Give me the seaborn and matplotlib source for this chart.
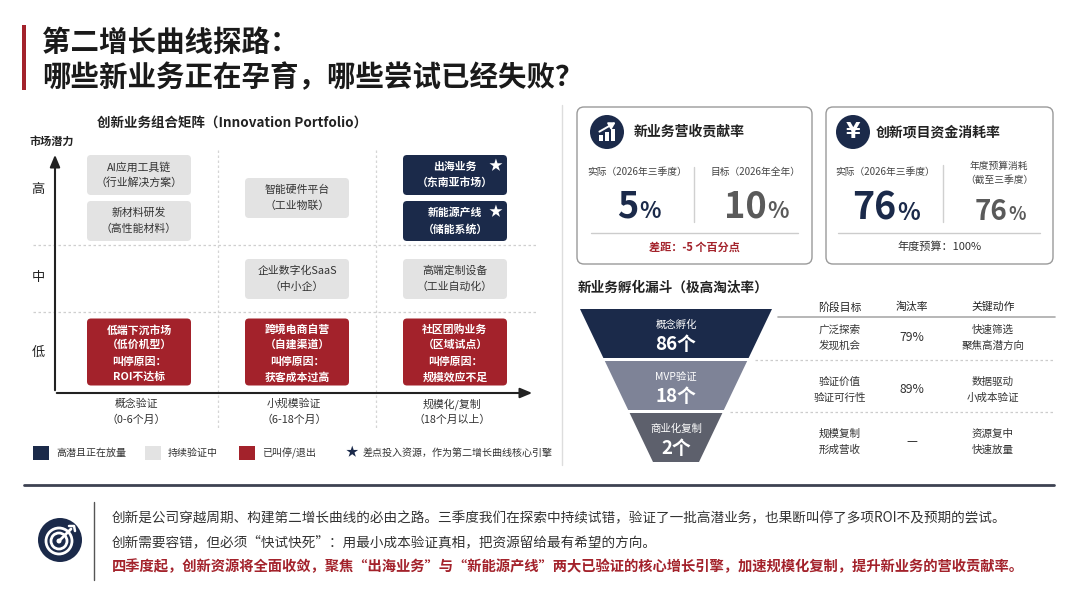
import numpy as np
import pandas as pd
import matplotlib
matplotlib.use('Agg')
import matplotlib.pyplot as plt
from matplotlib.patches import FancyBboxPatch, Polygon, Circle, Rectangle
import seaborn as sns

sns.set_theme(style='white')
plt.rcParams['font.family'] = ['Noto Sans CJK SC', 'DejaVu Sans']

# ---------------- data ----------------
title_lines = ['第二增长曲线探路：', '哪些新业务正在孕育，哪些尝试已经失败？']

matrix_title = '创新业务组合矩阵（Innovation Portfolio）'
y_axis_name = '市场潜力'
potential_levels = ['低', '中', '高']
stage_names = ['概念验证', '小规模验证', '规模化/复制']
stage_periods = ['（0-6个月）', '（6-18个月）', '（18个月以上）']

biz_names = ['AI应用工具链', '新材料研发', '智能硬件平台', '出海业务', '新能源产线',
             '企业数字化SaaS', '高端定制设备', '低端下沉市场', '跨境电商自营', '社区团购业务']
biz_notes = ['（行业解决方案）', '（高性能材料）', '（工业物联）', '（东南亚市场）', '（储能系统）',
             '（中小企）', '（工业自动化）', '（低价机型）', '（自建渠道）', '（区域试点）']
biz_stage = [0, 0, 1, 2, 2, 1, 2, 0, 1, 2]
biz_level = [2, 2, 2, 2, 2, 1, 1, 0, 0, 0]
biz_status = ['test', 'test', 'test', 'scale', 'scale', 'test', 'test', 'stop', 'stop', 'stop']
biz_reason = ['', '', '', '', '', '', '', 'ROI不达标', '获客成本过高', '规模效应不足']

status_order = ['scale', 'test', 'stop']
status_labels = ['高潜且正在放量', '持续验证中', '已叫停/退出']
star_note = '差点投入资源，作为第二增长曲线核心引擎'

rev_title = '新业务营收贡献率'
rev_labels = ['实际（2026年三季度）', '目标（2026年全年）']
rev_values = [5, 10]
burn_title = '创新项目资金消耗率'
burn_labels = ['实际（2026年三季度）', '年度预算消耗\n（截至三季度）']
burn_values = [76, 76]
burn_budget = 100

funnel_title = '新业务孵化漏斗（极高淘汰率）'
funnel_stages = ['概念孵化', 'MVP验证', '商业化复制']
funnel_counts = [86, 18, 2]
table_headers = ['阶段目标', '淘汰率', '关键动作']
stage_goals = ['广泛探索\n发现机会', '验证价值\n验证可行性', '规模复制\n形成营收']
drop_rates = ['79%', '89%', '—']
key_actions = ['快速筛选\n聚焦高潜方向', '数据驱动\n小成本验证', '资源复中\n快速放量']

summary_lines = [
    '创新是公司穿越周期、构建第二增长曲线的必由之路。三季度我们在探索中持续试错，验证了一批高潜业务，也果断叫停了多项ROI不及预期的尝试。',
    '创新需要容错，但必须“快试快死”：用最小成本验证真相，把资源留给最有希望的方向。',
    '四季度起，创新资源将全面收敛，聚焦“出海业务”与“新能源产线”两大已验证的核心增长引擎，加速规模化复制，提升新业务的营收贡献率。',
]

# ---------------- style ----------------
NAVY = '#1b2a4a'
RED = '#a3222b'
GRAY_BOX = '#e3e3e3'
TXT = '#222222'
MID = '#444444'
status_fill = {'scale': NAVY, 'test': GRAY_BOX, 'stop': RED}
status_text = {'scale': 'white', 'test': '#333333', 'stop': 'white'}

fig = plt.figure(figsize=(10.8, 6.08), dpi=100)
ax = fig.add_axes([0, 0, 1, 1])
ax.set_xlim(0, 1080)
ax.set_ylim(608, 0)
ax.axis('off')


def rbox(x0, y0, w, h, fc, ec='none', lw=0, r=4):
    ax.add_patch(FancyBboxPatch((x0, y0), w, h, boxstyle=f'round,pad=0,rounding_size={r}',
                                fc=fc, ec=ec, lw=lw))


# ---------------- title ----------------
ax.add_patch(Rectangle((22, 25), 4, 65, fc=RED, ec='none'))
for i, line in enumerate(title_lines):
    ax.text(42, 43 + i * 35, line, fontsize=20.5, fontweight='bold', color='#1a1a1a',
            ha='left', va='center')

# ---------------- matrix ----------------
COL_X0, COL_W = 139, 158
ROW_CY = [352, 279, 198]
ROW_LABEL_Y = [352, 278, 190]
AX_X, AX_Y, AX_TOP, AX_RIGHT = 55, 393, 152, 535
BOX_W = 104

ax.text(97, 124, matrix_title, fontsize=9.7, fontweight='bold', color=TXT, ha='left', va='center')
ax.text(52, 141, y_axis_name, fontsize=8, fontweight='bold', color=TXT, ha='center', va='center')

for yl in [245, 312]:
    ax.plot([33, 537], [yl, yl], color='#cfcfcf', lw=0.9, ls=(0, (2, 2)))
for s in range(1, len(stage_names)):
    xl = COL_X0 + (s - 0.5) * COL_W
    ax.plot([xl, xl], [150, 428], color='#d5d5d5', lw=0.9, ls=(0, (2, 2)))

ax.annotate('', xy=(AX_X, AX_TOP), xytext=(AX_X, AX_Y),
            arrowprops=dict(arrowstyle='-|>,head_length=0.6,head_width=0.25', color='#222', lw=1.5))
ax.annotate('', xy=(AX_RIGHT, AX_Y), xytext=(AX_X - 1, AX_Y),
            arrowprops=dict(arrowstyle='-|>,head_length=0.6,head_width=0.25', color='#222', lw=1.5))

for l, lab in enumerate(potential_levels):
    ax.text(38, ROW_LABEL_Y[l], lab, fontsize=9.5, color=TXT, ha='center', va='center')
for s, (nm, per) in enumerate(zip(stage_names, stage_periods)):
    cx = COL_X0 + s * COL_W
    ax.text(cx - 3, 404, nm, fontsize=7.8, color='#333', ha='center', va='center')
    ax.text(cx - 3, 420, per, fontsize=7.8, color='#333', ha='center', va='center')

biz = pd.DataFrame({'name': biz_names, 'note': biz_notes, 'stage': biz_stage,
                    'level': biz_level, 'status': biz_status, 'reason': biz_reason})
for (s, l), grp in biz.groupby(['stage', 'level'], sort=False):
    heights = [67 if st == 'stop' else 40 for st in grp['status']]
    gap = 6
    y = ROW_CY[l] - (sum(heights) + gap * (len(heights) - 1)) / 2
    cx = COL_X0 + s * COL_W
    for (_, row), h in zip(grp.iterrows(), heights):
        st = row['status']
        rbox(cx - BOX_W / 2, y, BOX_W, h, status_fill[st], r=4)
        tc = status_text[st]
        fw = 'normal' if st == 'test' else 'bold'
        cy = y + h / 2
        if st == 'stop':
            lines = [row['name'], row['note'], '叫停原因：', row['reason']]
            offs = [-22, -7.5, 10, 25]
        else:
            lines = [row['name'], row['note']]
            offs = [-8, 8]
        for ln, o in zip(lines, offs):
            ax.text(cx, cy + o, ln, fontsize=7.8, color=tc, fontweight=fw, ha='center', va='center')
        if st == 'scale':
            ax.text(cx + BOX_W / 2 - 12, y + 11, '★', fontsize=10, color='white',
                    ha='center', va='center')
        y += h + gap

# legend
leg_x = [33, 145, 239]
for st, lab, lx in zip(status_order, status_labels, leg_x):
    ax.add_patch(Rectangle((lx, 446), 16, 14, fc=status_fill[st], ec='none'))
    ax.text(lx + 23, 453, lab, fontsize=7.2, color='#333', ha='left', va='center')
ax.text(352, 453, '★', fontsize=9, color=NAVY, ha='center', va='center')
ax.text(363, 453, star_note, fontsize=7.2, color='#333', ha='left', va='center')

# section divider
ax.plot([562, 562], [105, 465], color='#dddddd', lw=1)

# ---------------- KPI cards ----------------
def big_pct(cx, base, val, size, pct_size, color):
    px = size * 100 / 72
    ppx = pct_size * 100 / 72
    s = str(val)
    split = cx + (len(s) * 0.56 * px - 0.8 * ppx) / 2
    ax.text(split, base, s, fontsize=size, fontweight='bold', color=color, ha='right', va='baseline')
    ax.text(split + 1, base, '%', fontsize=pct_size, fontweight='bold', color=color,
            ha='left', va='baseline')


cards = [(577, 235), (826, 227)]
for x0, w in cards:
    rbox(x0, 107, w, 157, 'white', ec='#9a9a9a', lw=1.0, r=7)

# icon 1: bar chart
ax.add_patch(Circle((607, 132), 17, fc=NAVY, ec='none'))
for i, bh in enumerate([6, 9, 12]):
    ax.add_patch(Rectangle((598.5 + i * 6, 141 - bh), 4, bh, fc='white', ec='none'))
ax.annotate('', xy=(618, 121), xytext=(597, 133),
            arrowprops=dict(arrowstyle='-|>,head_length=0.3,head_width=0.18', color='white', lw=1.4))
ax.text(634, 132, rev_title, fontsize=10, fontweight='bold', color=TXT, ha='left', va='center')

# icon 2: yen
ax.add_patch(Circle((853, 132), 17, fc=NAVY, ec='none'))
ax.text(853, 132, '¥', fontsize=15, fontweight='bold', color='white', ha='center', va='center',
        family=['DejaVu Sans'])
ax.text(876, 132, burn_title, fontsize=10, fontweight='bold', color=TXT, ha='left', va='center')

rev_cx = [637, 755]
for cx, lab in zip(rev_cx, rev_labels):
    ax.text(cx, 172, lab, fontsize=7, color=MID, ha='center', va='center')
big_pct(rev_cx[0], 218, rev_values[0], 26, 16, NAVY)
big_pct(rev_cx[1], 218, rev_values[1], 26, 16, '#5a5a5a')
ax.plot([694, 694], [167, 222], color='#d0d0d0', lw=1)
ax.plot([591, 798], [233, 233], color='#cccccc', lw=1)
ax.text(694, 247, f'差距：{rev_values[0] - rev_values[1]} 个百分点', fontsize=8, fontweight='bold',
        color=RED, ha='center', va='center')

burn_cx = [885, 999]
ax.text(burn_cx[0], 172, burn_labels[0], fontsize=7, color=MID, ha='center', va='center')
for i, ln in enumerate(burn_labels[1].split('\n')):
    ax.text(burn_cx[1], 166 + i * 14, ln, fontsize=7, color=MID, ha='center', va='center')
big_pct(burn_cx[0], 220, burn_values[0], 27, 17, NAVY)
big_pct(burn_cx[1], 220, burn_values[1], 20, 13, '#5a5a5a')
ax.plot([943, 943], [165, 222], color='#d0d0d0', lw=1)
ax.plot([838, 1040], [233, 233], color='#cccccc', lw=1)
ax.text(940, 247, f'年度预算：{burn_budget}%', fontsize=8, color='#333', ha='center', va='center')

# ---------------- funnel ----------------
ax.text(578, 288, funnel_title, fontsize=9.8, fontweight='bold', color=TXT, ha='left', va='center')
FUN_CX, FUN_TOP, FUN_BOT = 676, 309, 462
HW_TOP, HW_BOT, SEG_GAP = 96, 23, 3
funnel_colors = [NAVY, '#7e8397', '#5d606c']
seg_h = (FUN_BOT - FUN_TOP - SEG_GAP * (len(funnel_stages) - 1)) / len(funnel_stages)


def half_w(yy):
    return HW_TOP - (yy - FUN_TOP) * (HW_TOP - HW_BOT) / (FUN_BOT - FUN_TOP)


tab_x = [840, 912, 993]
for i, (nm, cnt) in enumerate(zip(funnel_stages, funnel_counts)):
    t = FUN_TOP + i * (seg_h + SEG_GAP)
    b = t + seg_h
    pts = [(FUN_CX - half_w(t), t), (FUN_CX + half_w(t), t),
           (FUN_CX + half_w(b), b), (FUN_CX - half_w(b), b)]
    ax.add_patch(Polygon(pts, closed=True, fc=funnel_colors[i], ec='none'))
    ax.text(FUN_CX, t + 0.33 * seg_h, nm, fontsize=7.5, color='white', ha='center', va='center')
    ax.text(FUN_CX, t + 0.73 * seg_h, f'{cnt}个', fontsize=13.5, fontweight='bold', color='white',
            ha='center', va='center')
    rc = (t + b) / 2 + 4
    for j, col in enumerate([stage_goals[i], drop_rates[i], key_actions[i]]):
        parts = col.split('\n')
        if len(parts) == 2:
            for k, p in enumerate(parts):
                ax.text(tab_x[j], rc - 8 + 16 * k, p, fontsize=7.6, color='#333',
                        ha='center', va='center')
        else:
            ax.text(tab_x[j], rc, parts[0], fontsize=8.8, color='#333', ha='center', va='center')
    if i < len(funnel_stages) - 1:
        yl = b + SEG_GAP / 2
        ax.plot([FUN_CX + half_w(yl) + 7, 1055], [yl, yl], color='#cccccc', lw=0.9, ls=(0, (2, 2)))

for j, hd in enumerate(table_headers):
    ax.text(tab_x[j], 307, hd, fontsize=7.8, color=TXT, ha='center', va='center')
ax.plot([778, 1055], [317, 317], color='#aaaaaa', lw=1.2)

# ---------------- summary ----------------
ax.plot([24, 1054], [485, 485], color='#3d4252', lw=2)
ax.add_patch(Circle((60, 540), 22, fc=NAVY, ec='none'))
for r in [13, 8]:
    ax.add_patch(Circle((59, 541), r, fc='none', ec='white', lw=2))
ax.add_patch(Circle((59, 541), 2.5, fc='white', ec='none'))
ax.plot([59, 71], [541, 529], color='white', lw=2, solid_capstyle='round')
ax.plot([69, 74, 75], [526, 526, 531], color='white', lw=1.8)
ax.plot([94, 94], [502, 580], color='#555555', lw=1)

summary_y = [518, 542, 567]
summary_size = [9.8, 9.8, 10.3]
for i, (ln, yy) in enumerate(zip(summary_lines, summary_y)):
    last = i == len(summary_lines) - 1
    ax.text(112, yy, ln, fontsize=summary_size[i], color=RED if last else '#333',
            fontweight='bold' if last else 'normal', ha='left', va='center')

fig.savefig('out.png', dpi=100, facecolor='white')
